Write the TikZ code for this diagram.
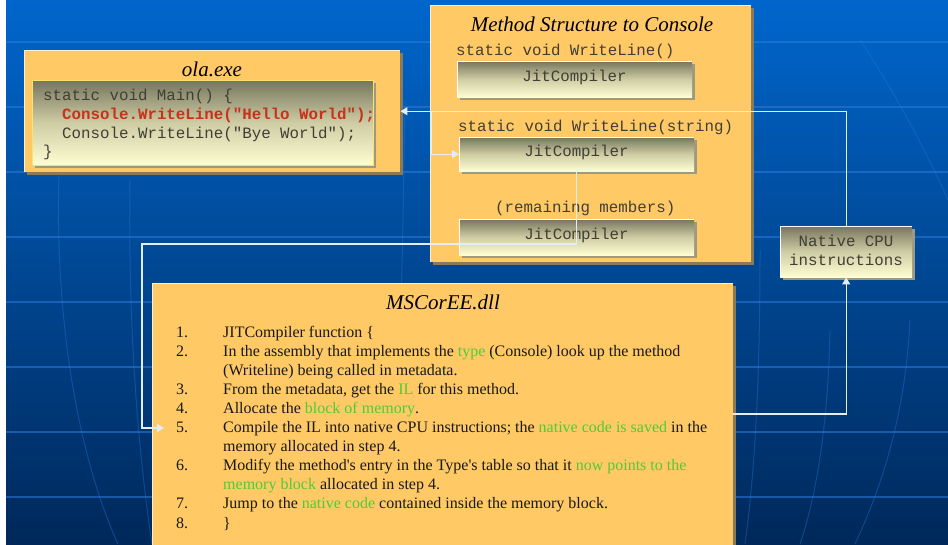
\documentclass[tikz,border=0pt]{standalone}
\usepackage{fontspec}
\setmainfont{Liberation Serif}
\setmonofont{Liberation Mono}
\usetikzlibrary{arrows.meta,shadows}

\definecolor{bgtop}{HTML}{0066CC}
\definecolor{bgbot}{HTML}{00285A}
\definecolor{gridc}{HTML}{2A7CDC}
\definecolor{boxor}{HTML}{FFC966}
\definecolor{boxsh}{HTML}{8A7A58}
\definecolor{gtop}{HTML}{76765E}
\definecolor{gmid}{HTML}{CFCDA4}
\definecolor{gbot}{HTML}{FFFDD2}
\definecolor{innsh}{HTML}{9C9A80}
\definecolor{codec}{HTML}{403F36}
\definecolor{codered}{HTML}{C8321A}
\definecolor{hl}{HTML}{4DCC38}
\definecolor{connc}{HTML}{E4ECF4}
\definecolor{codeedge}{HTML}{FFE070}

\begin{document}
\begin{tikzpicture}[x=1pt,y=-1pt,
  outerbox/.style={anchor=north west, inner sep=0pt, fill=boxor,
    general shadow={shadow xshift=3pt, shadow yshift=-3pt, fill=boxsh}},
  gradbox/.style={anchor=north west, inner sep=0pt,
    top color=gtop, bottom color=gbot, middle color=gmid,
    general shadow={shadow xshift=2.5pt, shadow yshift=-2.5pt, fill=innsh}},
  edgehi/.style={draw=white, line width=1pt},
  outeredge/.style={draw=white!70!boxor, line width=1pt},
  titletext/.style={anchor=base, inner sep=0pt, font=\fontsize{21}{25}\selectfont\itshape},
  code/.style={anchor=base west, inner sep=0pt, text=codec,
    font=\ttfamily\fontsize{15.8}{19}\selectfont},
  body/.style={anchor=base west, inner sep=0pt, text=black!90,
    font=\fontsize{16}{19}\selectfont},
  conn/.style={draw=connc, line width=1.3pt},
  arr/.style={-{Triangle[width=8pt,length=7pt]}},
  gridline/.style={draw=gridc, line width=1.2pt, opacity=.55},
  meridian/.style={draw=gridc, line width=1pt, opacity=.35}
]
\useasboundingbox (0,0) rectangle (948,544);

% backdrop
\shade[top color=bgtop, bottom color=bgbot] (0,0) rectangle (948,544);
\foreach \yy in {42,107,172,237,302,367,432,497}
  \draw[gridline] (6,\yy) -- (948,\yy);
\draw[meridian] (60,150) .. controls (52,300) and (75,450) .. (118,544);
\draw[meridian] (130,180) .. controls (128,330) and (138,450) .. (152,544);
\draw[meridian] (405,100) .. controls (402,300) and (398,450) .. (392,544);
\draw[meridian] (760,250) .. controls (760,380) and (755,470) .. (745,544);
\draw[meridian] (830,330) .. controls (828,430) and (815,500) .. (800,544);
\draw[meridian] (910,320) .. controls (905,420) and (880,490) .. (855,544);
\draw[meridian] (860,40) .. controls (900,100) and (930,160) .. (948,200);
\fill[white] (-2,-2) rectangle (6,548);

% ola.exe
\node[outerbox, minimum width=376pt, minimum height=122pt] (ola) at (24,50) {};
\draw[outeredge] (ola.south west) |- (ola.north east);
\node[titletext] (olat) at (212,76) {ola.exe};
\node[gradbox, draw=codeedge, line width=1pt, minimum width=341pt, minimum height=85pt] (olacode) at (32,80) {};
\node[code] (oc1) at (43,100) {static void Main() \{};
\node[code, text=codered, font=\ttfamily\bfseries\fontsize{15.8}{19}\selectfont] (oc2) at (62,119) {Console.WriteLine("Hello World");};
\node[code] (oc3) at (62,138) {Console.WriteLine("Bye World");};
\node[code] (oc4) at (43,156) {\}};

% Method structure to Console
\node[outerbox, minimum width=321pt, minimum height=257pt] (ms) at (430,5) {};
\draw[outeredge] (ms.south west) |- (ms.north east);
\node[titletext] (mst) at (592,31) {Method Structure to Console};
\node[code] (m1) at (456,55) {static void WriteLine()};
\node[gradbox, minimum width=235pt, minimum height=36pt] (jit1) at (457,61) {};
\draw[edgehi] (jit1.south west) |- (jit1.north east);
\node[code, anchor=base] (j1) at (574.5,81) {JitCompiler};
\node[code] (m2) at (458,131) {static void WriteLine(string)};
\node[gradbox, minimum width=235pt, minimum height=34pt] (jit2) at (459,137) {};
\draw[edgehi] (jit2.south west) |- (jit2.north east);
\node[code, anchor=base] (j2) at (576.5,156) {JitCompiler};
\node[code] (m3) at (495,212) {(remaining members)};
\node[gradbox, minimum width=235pt, minimum height=36pt] (jit3) at (459,219) {};
\draw[edgehi] (jit3.south west) |- (jit3.north east);
\node[code, anchor=base] (j3) at (576.5,239) {JitCompiler};

% native code box
\node[gradbox, minimum width=132pt, minimum height=51pt] (native) at (780,226) {};
\draw[edgehi] (native.south west) |- (native.north east);
\node[code, anchor=base] (nat1) at (846,246) {Native CPU};
\node[code, anchor=base] (nat2) at (846,265) {instructions};

% MSCorEE.dll
\node[outerbox, minimum width=581pt, minimum height=290pt] (dll) at (152,283) {};
\draw[outeredge] (dll.south west) |- (dll.north east);
\node[titletext] (dllt) at (443,309) {MSCorEE.dll};
\node[body] (n1) at (176,337) {1.};
\node[body] (t1) at (223,337) {JITCompiler function \{};
\node[body] (n2) at (176,356.1) {2.};
\node[body] (t2) at (223,356.1) {In the assembly that implements the \textcolor{hl}{type} (Console) look up the method};
\node[body] (t2b) at (223,375.2) {(Writeline) being called in metadata.};
\node[body] (n3) at (176,394.3) {3.};
\node[body] (t3) at (223,394.3) {From the metadata, get the \textcolor{hl}{IL} for this method.};
\node[body] (n4) at (176,413.4) {4.};
\node[body] (t4) at (223,413.4) {Allocate the \textcolor{hl}{block of memory}.};
\node[body] (n5) at (176,432.5) {5.};
\node[body] (t5) at (223,432.5) {Compile the IL into native CPU instructions; the \textcolor{hl}{native code is saved} in the};
\node[body] (t5b) at (223,451.6) {memory allocated in step 4.};
\node[body] (n6) at (176,470.7) {6.};
\node[body] (t6) at (223,470.7) {Modify the method\textquotesingle s entry in the Type\textquotesingle s table so that it \textcolor{hl}{now points to the}};
\node[body] (t6b) at (223,489.8) {\textcolor{hl}{memory block} allocated in step 4.};
\node[body] (n7) at (176,508.9) {7.};
\node[body] (t7) at (223,508.9) {Jump to the \textcolor{hl}{native code} contained inside the memory block.};
\node[body] (n8) at (176,528) {8.};
\node[body] (t8) at (223,528) {\}};

% connectors
\coordinate (split) at (431,111);
\coordinate (detour) at (142,244);
\coordinate (step5) at (164,428);
\coordinate (dllout) at (733,414);
\draw[conn, arr] (native.north) |- (ola.east);
\draw[conn, arr] (split) |- (jit2.west);
\draw[conn, arr] (jit2.south) |- (detour) |- (step5);
\draw[conn, arr] (dllout) -| (native.south);
\end{tikzpicture}
\end{document}
